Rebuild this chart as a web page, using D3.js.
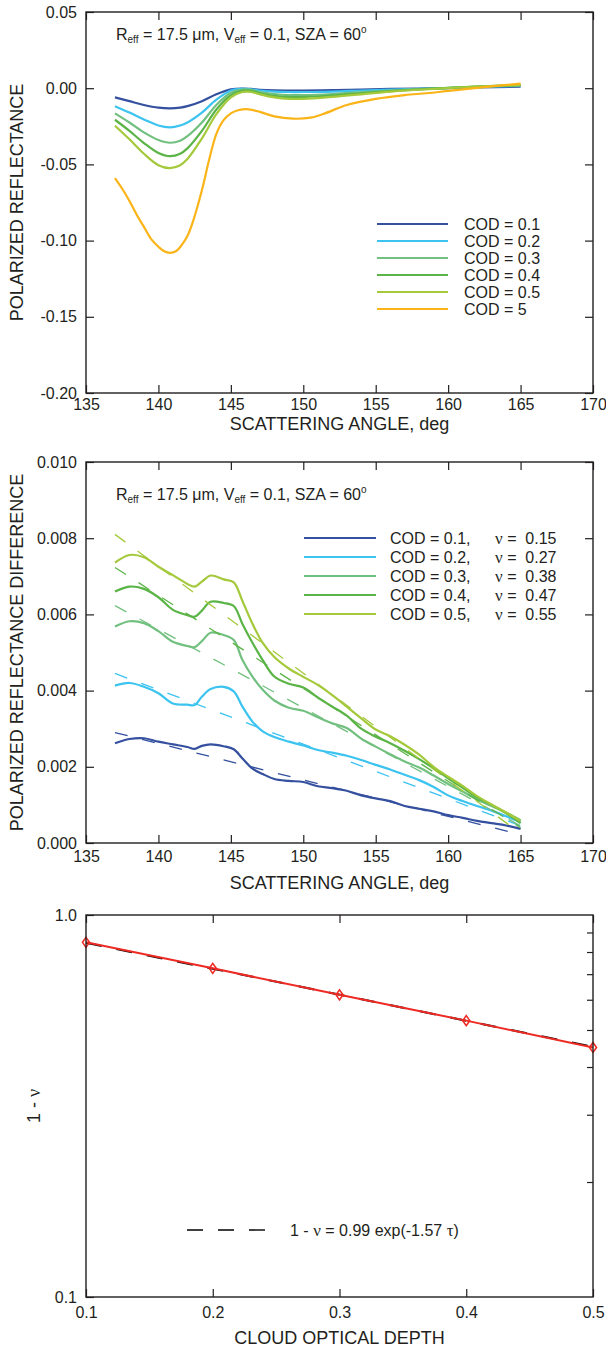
<!DOCTYPE html>
<html><head><meta charset="utf-8">
<script src="https://cdn.jsdelivr.net/npm/d3@7"></script>
<style>
body{margin:0;background:#fff}
text{font-family:"Liberation Sans",Arial,Helvetica,sans-serif;fill:#231f20}
.serif{font-family:"Liberation Serif","Times New Roman",serif}
</style>
</head><body><svg id="c" width="606" height="1351"></svg>
<script>
// ---------------- DATA ----------------
// Panel 1: polarized reflectance vs scattering angle
const angles = [137,138,139,140,140.8,141.5,142,143,144,145,145.8,146.4,147,148,149,150,152,154,156,158,160,162,165];
const pr01 = [-0.0060,-0.0085,-0.0110,-0.0128,-0.0133,-0.0128,-0.0118,-0.0085,-0.0040,-0.0008,-0.0002,-0.0005,-0.0010,-0.0014,-0.0015,-0.0015,-0.0013,-0.0009,-0.0005,-0.0002,0.0000,0.0005,0.0010];
const pr02 = [-0.0118,-0.0160,-0.0205,-0.0245,-0.0257,-0.0245,-0.0225,-0.0160,-0.0075,-0.0015,-0.0004,-0.0007,-0.0015,-0.0022,-0.0025,-0.0025,-0.0022,-0.0015,-0.0009,-0.0004,0.0001,0.0008,0.0015];
const pr03 = [-0.0165,-0.0225,-0.0290,-0.0340,-0.0358,-0.0345,-0.0315,-0.0225,-0.0110,-0.0030,-0.0009,-0.0011,-0.0025,-0.0038,-0.0045,-0.0045,-0.0038,-0.0026,-0.0015,-0.0006,0.0002,0.0010,0.0018];
const pr04 = [-0.0207,-0.0280,-0.0360,-0.0425,-0.0446,-0.0430,-0.0395,-0.0280,-0.0140,-0.0045,-0.0015,-0.0017,-0.0033,-0.0050,-0.0058,-0.0058,-0.0048,-0.0033,-0.0019,-0.0008,0.0002,0.0011,0.0020];
const pr05 = [-0.0246,-0.0335,-0.0430,-0.0505,-0.0524,-0.0505,-0.0465,-0.0330,-0.0170,-0.0060,-0.0025,-0.0025,-0.0040,-0.0060,-0.0070,-0.0070,-0.0057,-0.0040,-0.0023,-0.0010,0.0001,0.0011,0.0022];
const angles5 = [137,137.5,138,138.5,139,139.5,140,140.4,140.8,141.2,141.6,142,142.4,143,143.5,144,144.5,145,145.5,146.1,147,148,149.3,150.5,151.5,153,155,157,158.5,160,161.5,163,165];
const pr5 = [-0.059,-0.066,-0.074,-0.083,-0.091,-0.099,-0.104,-0.107,-0.108,-0.107,-0.103,-0.097,-0.087,-0.067,-0.047,-0.030,-0.021,-0.0165,-0.0145,-0.0137,-0.0155,-0.0185,-0.0200,-0.0193,-0.0165,-0.011,-0.007,-0.0045,-0.0033,-0.0018,-0.0003,0.0012,0.0030];
const codLabels1 = ["COD = 0.1","COD = 0.2","COD = 0.3","COD = 0.4","COD = 0.5","COD = 5"];

// Panel 2: polarized reflectance difference
const angles2 = [137,138,139,140,141,142,142.5,143,143.6,144.5,145.2,145.8,146.5,147.2,148,149,150,151,152,153,154,155,156,157,158,159,160,161,162,163,164,165];
const prd01 = [.00262,.00273,.00275,.00266,.00259,.00252,.00247,.00255,.00259,.00254,.00246,.00222,.00195,.00181,.00168,.00163,.00160,.00149,.00144,.00137,.00125,.00117,.00110,.00097,.00090,.00083,.00073,.00066,.00058,.00052,.00046,.00037];
const prd02 = [.00413,.00420,.00410,.00393,.00366,.00363,.00362,.00384,.00404,.00410,.00398,.00358,.00318,.00293,.00278,.00266,.00256,.00244,.00237,.00229,.00218,.00205,.00193,.00179,.00165,.00147,.00125,.00110,.00097,.00085,.00070,.00055];
const prd03 = [.00568,.00582,.00577,.00556,.00528,.00517,.00514,.00530,.00552,.00546,.00533,.00480,.00436,.00402,.00374,.00355,.00347,.00330,.00314,.00302,.00274,.00253,.00233,.00214,.00198,.00177,.00155,.00135,.00114,.00097,.00080,.00060];
const prd04 = [.00660,.00673,.00667,.00645,.00612,.00598,.00594,.00610,.00633,.00630,.00622,.00575,.00525,.00480,.00437,.00418,.00408,.00382,.00358,.00334,.00300,.00279,.00262,.00242,.00220,.00196,.00170,.00145,.00120,.00100,.00078,.00052];
const prd05 = [.00736,.00756,.00750,.00725,.00703,.00680,.00673,.00686,.00702,.00692,.00684,.00635,.00575,.00525,.00488,.00458,.00436,.00415,.00388,.00358,.00327,.00298,.00280,.00258,.00232,.00200,.00174,.00150,.00123,.00101,.00080,.00058];
const fitAngles = [137,165];
const fitStart = [0.00290,0.00445,0.00623,0.00723,0.00810];
const fitEnd   = [0.00022,0.00045,0.00045,0.00040,0.00025];
const codLabels2 = ["COD = 0.1,","COD = 0.2,","COD = 0.3,","COD = 0.4,","COD = 0.5,"];
const nuValues = ["0.15","0.27","0.38","0.47","0.55"];

// Panel 3: 1 - nu vs cloud optical depth
const cod = [0.1,0.2,0.3,0.4,0.5];
const oneMinusNu = [0.848,0.725,0.618,0.529,0.450];
const fitTau = [0.1,0.5];
const fitOneMinusNu = [0.846,0.452];

// Tick labels
const angTicks = [135,140,145,150,155,160,165,170];
const prTicks = [0.05,0.00,-0.05,-0.10,-0.15,-0.20];
const prdTicks = [0.000,0.002,0.004,0.006,0.008,0.010];
const codTicks = [0.1,0.2,0.3,0.4,0.5];
const logTicks = [0.1,1.0];

// ---------------- STYLE ----------------
const colors = ["#34509f","#3cc3ef","#72c07f","#5bb446","#a4c93b","#fbb417"];
const L = 86, R = 593;
const svg = d3.select("#c");
const ink = "#231f20";

function frame(g, top, bottom){
  g.append("rect").attr("x",L).attr("y",top).attr("width",R-L).attr("height",bottom-top)
   .attr("fill","none").attr("stroke",ink).attr("stroke-width",1.4);
}
function ticksX(g, x, top, bottom, major, minor, fmt, pad){
  const mk = (gen, vals, size, labels) =>
    gen(x).tickValues(vals).tickSize(-size).tickPadding(pad).tickFormat(labels ? fmt : "");
  const gb = g.append("g").attr("transform",`translate(0,${bottom})`);
  gb.call(mk(d3.axisBottom, minor, 4, false)); gb.call(mk(d3.axisBottom, major, 8, true));
  const gt = g.append("g").attr("transform",`translate(0,${top})`);
  gt.call(mk(d3.axisTop, minor, 4, false)); gt.call(mk(d3.axisTop, major, 8, false));
}
function ticksY(g, y, major, minor, fmt){
  const gl = g.append("g").attr("transform",`translate(${L},0)`);
  gl.call(d3.axisLeft(y).tickValues(minor).tickSize(-4).tickFormat(""));
  gl.call(d3.axisLeft(y).tickValues(major).tickSize(-8).tickPadding(9).tickFormat(fmt));
  const gr = g.append("g").attr("transform",`translate(${R},0)`);
  gr.call(d3.axisRight(y).tickValues(minor).tickSize(-4).tickFormat(""));
  gr.call(d3.axisRight(y).tickValues(major).tickSize(-8).tickFormat(""));
}
function styleAxes(g){
  g.selectAll(".domain").remove();
  g.selectAll(".tick line").attr("stroke",ink).attr("stroke-width",1.2);
  g.selectAll(".tick text").attr("font-size",16).attr("fill",ink)
   .attr("font-family",'"Liberation Sans",Arial,sans-serif');
}
function range(a,b,s){ const r=[]; for(let v=a; v<=b+s/2; v+=s) r.push(+v.toFixed(6)); return r; }
function annot(g, x, y){
  const t = g.append("text").attr("x",x).attr("y",y).attr("font-size",16);
  t.append("tspan").text("R");
  t.append("tspan").attr("font-size",10).attr("dy",3).text("eff");
  t.append("tspan").attr("dy",-3).text(" = 17.5 μm, V");
  t.append("tspan").attr("font-size",10).attr("dy",3).text("eff");
  t.append("tspan").attr("dy",-3).text(" = 0.1, SZA = 60");
  t.append("tspan").attr("font-size",10).attr("dy",-7).text("o");
}
function yTitle(g, x, yc, txt){
  return g.append("text").attr("transform",`translate(${x},${yc}) rotate(-90)`)
    .attr("text-anchor","middle").attr("font-size",18).text(txt);
}
function xTitle(g, y, txt){
  g.append("text").attr("x",(L+R)/2).attr("y",y).attr("text-anchor","middle").attr("font-size",18).text(txt);
}

// ---------------- PANEL 1 ----------------
{
  const top=12, bottom=393;
  const g = svg.append("g");
  const x = d3.scaleLinear().domain([135,170]).range([L,R]);
  const y = d3.scaleLinear().domain([-0.20,0.05]).range([bottom,top]);
  const line = d3.line().x(d=>x(d[0])).y(d=>y(d[1])).curve(d3.curveCatmullRom.alpha(0.5));
  const series = [pr01,pr02,pr03,pr04,pr05];
  series.forEach((s,i)=>{
    g.append("path").datum(angles.map((a,j)=>[a,s[j]])).attr("d",line)
     .attr("fill","none").attr("stroke",colors[i]).attr("stroke-width",2.2);
  });
  g.append("path").datum(angles5.map((a,j)=>[a,pr5[j]])).attr("d",line)
   .attr("fill","none").attr("stroke",colors[5]).attr("stroke-width",2.2);
  const ax = g.append("g");
  ticksX(ax, x, top, bottom, angTicks, range(135,170,1), d=>d3.format("d")(d), 6);
  ticksY(ax, y, prTicks, range(-0.20,0.05,0.01), d=>d.toFixed(2));
  styleAxes(ax);
  frame(g, top, bottom);
  annot(g, 116, 40);
  codLabels1.forEach((lab,i)=>{
    const yy = 224 + i*17;
    g.append("line").attr("x1",377).attr("x2",448).attr("y1",yy).attr("y2",yy)
     .attr("stroke",colors[i]).attr("stroke-width",2.2);
    g.append("text").attr("x",464).attr("y",yy+5.5).attr("font-size",16).text(lab);
  });
  yTitle(g, 23, (top+bottom)/2, "POLARIZED REFLECTANCE");
  xTitle(g, 430, "SCATTERING ANGLE, deg");
}

// ---------------- PANEL 2 ----------------
{
  const top=462, bottom=843;
  const g = svg.append("g");
  const x = d3.scaleLinear().domain([135,170]).range([L,R]);
  const y = d3.scaleLinear().domain([0,0.010]).range([bottom,top]);
  const line = d3.line().x(d=>x(d[0])).y(d=>y(d[1])).curve(d3.curveCatmullRom.alpha(0.5));
  const series = [prd01,prd02,prd03,prd04,prd05];
  series.forEach((s,i)=>{
    g.append("path").datum(angles2.map((a,j)=>[a,s[j]])).attr("d",line)
     .attr("fill","none").attr("stroke",colors[i]).attr("stroke-width",2.2);
  });
  fitStart.forEach((v,i)=>{
    g.append("path").datum([[fitAngles[0],v],[fitAngles[1],fitEnd[i]]]).attr("d",d3.line().x(d=>x(d[0])).y(d=>y(d[1])))
     .attr("fill","none").attr("stroke",colors[i]).attr("stroke-width",1.3).attr("stroke-dasharray","13,15");
  });
  const ax = g.append("g");
  ticksX(ax, x, top, bottom, angTicks, range(135,170,1), d=>d3.format("d")(d), 8);
  ticksY(ax, y, prdTicks, range(0,0.010,0.0005), d=>d.toFixed(3));
  styleAxes(ax);
  frame(g, top, bottom);
  annot(g, 116, 500);
  codLabels2.forEach((lab,i)=>{
    const yy = 538 + i*19;
    g.append("line").attr("x1",304).attr("x2",376).attr("y1",yy).attr("y2",yy)
     .attr("stroke",colors[i]).attr("stroke-width",2.2);
    g.append("text").attr("x",390).attr("y",yy+5.5).attr("font-size",16).text(lab);
    const t = g.append("text").attr("x",495).attr("y",yy+5.5).attr("font-size",16).style("white-space","pre");
    t.append("tspan").attr("class","serif").attr("font-size",17).text("ν");
    t.append("tspan").text(" =  " + nuValues[i]);
  });
  yTitle(g, 23, (top+bottom)/2, "POLARIZED REFLECTANCE DIFFERENCE");
  xTitle(g, 889, "SCATTERING ANGLE, deg");
}

// ---------------- PANEL 3 ----------------
{
  const top=915, bottom=1297;
  const g = svg.append("g");
  const x = d3.scaleLinear().domain([0.1,0.5]).range([L,R]);
  const y = d3.scaleLog().domain([0.1,1.0]).range([bottom,top]);
  const line = d3.line().x(d=>x(d[0])).y(d=>y(d[1]));
  const ax = g.append("g");
  ticksX(ax, x, top, bottom, codTicks, range(0.1,0.5,0.01), d=>d.toFixed(1), 10);
  const gl = ax.append("g").attr("transform",`translate(${L},0)`);
  gl.call(d3.axisLeft(y).tickValues(range(0.2,0.9,0.1)).tickSize(-6).tickFormat(""));
  gl.call(d3.axisLeft(y).tickValues(logTicks).tickSize(-8).tickPadding(9).tickFormat(d=>d.toFixed(1)));
  const gr = ax.append("g").attr("transform",`translate(${R},0)`);
  gr.call(d3.axisRight(y).tickValues(range(0.2,0.9,0.1)).tickSize(-6).tickFormat(""));
  styleAxes(ax);
  g.append("path").datum(fitTau.map((t,i)=>[t,fitOneMinusNu[i]])).attr("d",line)
   .attr("fill","none").attr("stroke","#000").attr("stroke-width",2).attr("stroke-dasharray","16,15");
  g.append("path").datum(cod.map((t,i)=>[t,oneMinusNu[i]])).attr("d",line)
   .attr("fill","none").attr("stroke","#ee2a24").attr("stroke-width",2);
  g.selectAll("path.dm").data(cod.map((t,i)=>[t,oneMinusNu[i]])).enter().append("path")
   .attr("class","dm").attr("transform",d=>`translate(${x(d[0])},${y(d[1])})`)
   .attr("d","M0,-5L3.5,0L0,5L-3.5,0Z").attr("fill","none").attr("stroke","#ee2a24").attr("stroke-width",1.6);
  frame(g, top, bottom);
  g.append("line").attr("x1",187).attr("x2",265).attr("y1",1230).attr("y2",1230)
   .attr("stroke","#000").attr("stroke-width",1.4).attr("stroke-dasharray","16,15");
  const t = g.append("text").attr("x",290).attr("y",1235.5).attr("font-size",16);
  t.append("tspan").text("1 - ");
  t.append("tspan").attr("class","serif").attr("font-size",17).text("ν");
  t.append("tspan").text(" = 0.99 exp(-1.57 ");
  t.append("tspan").attr("class","serif").attr("font-size",17).text("τ");
  t.append("tspan").text(")");
  const yt = g.append("text").attr("transform",`translate(40,${(top+bottom)/2}) rotate(-90)`)
    .attr("text-anchor","middle").attr("font-size",18);
  yt.append("tspan").text("1 - ");
  yt.append("tspan").attr("class","serif").text("ν");
  xTitle(g, 1344, "CLOUD OPTICAL DEPTH");
}
</script></body></html>
